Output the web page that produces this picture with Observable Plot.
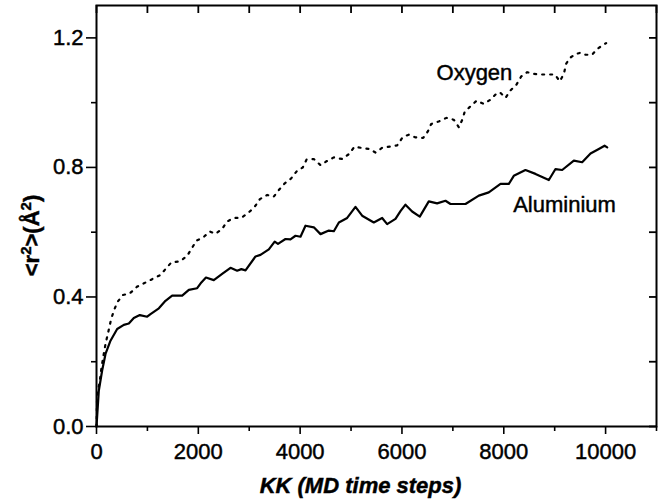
<!DOCTYPE html>
<html>
<head>
<meta charset="utf-8">
<script src="https://cdn.jsdelivr.net/npm/d3@7"></script>
<script src="https://cdn.jsdelivr.net/npm/@observablehq/plot@0.6"></script>
<style>
  html, body { margin: 0; padding: 0; background: white; }
  #chart svg text { stroke: black; stroke-width: 0.45px; paint-order: stroke; }
</style>
</head>
<body>
<div id="chart"></div>
<script>
// Aluminium <r^2> vs time steps (solid)
const alX = [0, 45, 110, 177, 275, 406, 537, 635, 733, 851, 995, 1061, 1225, 1355, 1486, 1683, 1814, 1977, 2060, 2150, 2304, 2468, 2632, 2763, 2845, 2927, 3123, 3221, 3385, 3500, 3565, 3712, 3810, 3909, 4007, 4105, 4269, 4400, 4564, 4662, 4761, 4924, 5087, 5218, 5447, 5611, 5709, 5873, 5971, 6069, 6200, 6350, 6527, 6691, 6855, 6953, 7248, 7510, 7706, 7936, 8099, 8197, 8426, 8623, 8885, 9016, 9147, 9376, 9540, 9704, 9867, 9980, 10032];
const alY = [0, 0.11, 0.172, 0.224, 0.265, 0.301, 0.314, 0.318, 0.335, 0.344, 0.339, 0.347, 0.365, 0.388, 0.404, 0.404, 0.422, 0.427, 0.445, 0.46, 0.452, 0.471, 0.49, 0.481, 0.486, 0.482, 0.525, 0.53, 0.547, 0.571, 0.564, 0.579, 0.578, 0.589, 0.586, 0.62, 0.615, 0.594, 0.605, 0.603, 0.63, 0.644, 0.678, 0.651, 0.63, 0.644, 0.625, 0.641, 0.665, 0.685, 0.664, 0.648, 0.695, 0.689, 0.697, 0.687, 0.687, 0.713, 0.723, 0.749, 0.749, 0.774, 0.792, 0.78, 0.761, 0.795, 0.792, 0.821, 0.816, 0.843, 0.857, 0.867, 0.862];

// Oxygen <r^2> vs time steps (dotted)
const oxX = [0, 13, 65, 98, 131, 177, 222, 288, 340, 406, 517, 654, 799, 943, 1093, 1257, 1355, 1473, 1637, 1781, 1964, 2095, 2226, 2337, 2468, 2566, 2697, 2842, 2992, 3110, 3208, 3353, 3483, 3581, 3699, 3824, 3942, 4052, 4125, 4269, 4400, 4518, 4662, 4826, 4957, 5068, 5218, 5362, 5480, 5624, 5762, 5906, 6016, 6135, 6260, 6417, 6508, 6574, 6724, 6875, 7019, 7118, 7184, 7229, 7314, 7465, 7608, 7726, 7838, 7923, 8035, 8133, 8251, 8343, 8460, 8591, 8722, 8853, 9003, 9101, 9180, 9226, 9297, 9409, 9507, 9606, 9736, 9835, 9933, 10010];
const oxY = [0, 0.095, 0.141, 0.182, 0.213, 0.255, 0.285, 0.332, 0.357, 0.383, 0.406, 0.411, 0.432, 0.443, 0.455, 0.468, 0.486, 0.507, 0.51, 0.527, 0.574, 0.584, 0.602, 0.595, 0.61, 0.633, 0.644, 0.644, 0.661, 0.679, 0.702, 0.715, 0.71, 0.73, 0.751, 0.766, 0.79, 0.8, 0.824, 0.826, 0.807, 0.819, 0.831, 0.826, 0.841, 0.864, 0.86, 0.857, 0.846, 0.862, 0.864, 0.868, 0.894, 0.901, 0.893, 0.891, 0.911, 0.934, 0.942, 0.953, 0.947, 0.924, 0.947, 0.97, 0.984, 1.006, 0.996, 1.008, 1.025, 1.032, 1.015, 1.038, 1.056, 1.081, 1.094, 1.089, 1.087, 1.087, 1.087, 1.066, 1.089, 1.12, 1.138, 1.15, 1.154, 1.148, 1.148, 1.166, 1.176, 1.184];

// In-plot series labels
const labelNames = ["Oxygen", "Aluminium"];
const labelX = [6679, 8185];
const labelY = [1.071, 0.661];

// Ticks
const xMajor = [0, 2000, 4000, 6000, 8000, 10000];
const xMinor = [1000, 3000, 5000, 7000, 9000, 11000];
const yMajor = [0, 0.4, 0.8, 1.2];
const yMinor = [0.2, 0.6, 1.0];

const xLabel = "KK (MD time steps)";
const yLabel = "<r2>(Å2)";

const al = alX.map((x, i) => ({x, y: alY[i]}));
const ox = oxX.map((x, i) => ({x, y: oxY[i]}));

const FONT = "'Liberation Sans', Arial, Helvetica, sans-serif";

const W = 667, H = 501, ML = 96, MR = 11, MT = 5, MB = 75;
const frameW = W - ML - MR, frameH = H - MT - MB;
const inTick = 8;

const chart = Plot.plot({
  width: W,
  height: H,
  marginLeft: ML,
  marginRight: MR,
  marginTop: MT,
  marginBottom: MB,
  style: {fontFamily: FONT, fontSize: "22px", color: "black", background: "white"},
  x: {domain: [0, 11000]},
  y: {domain: [0, 1.3]},
  marks: [
    Plot.frame({stroke: "black", fill: "none", strokeWidth: 2}),
    Plot.axisX({ticks: xMajor, tickSize: 8, tickPadding: 9, tickFormat: d3.format("d"), label: null, strokeWidth: 1.6, fontSize: 22}),
    Plot.axisX({ticks: xMinor, tickSize: 5, text: null, label: null, strokeWidth: 1.6}),
    Plot.axisY({ticks: yMajor, tickSize: 10, tickPadding: 3, tickFormat: d3.format(".1f"), label: null, strokeWidth: 1.6, fontSize: 22}),
    Plot.axisY({ticks: yMinor, tickSize: 5, text: null, label: null, strokeWidth: 1.6}),
    Plot.line(al, {x: "x", y: "y", stroke: "black", strokeWidth: 2.2}),
    Plot.line(ox, {x: "x", y: "y", stroke: "black", strokeWidth: 2.2, strokeDasharray: "2,6"}),
    // inward ticks along the top edge
    Plot.ruleX(xMajor.concat(xMinor), {x: (d) => d, insetBottom: frameH - inTick, stroke: "black", strokeWidth: 1.8}),
    // inward ticks along the right edge
    Plot.axisY({anchor: "right", ticks: yMajor.concat(yMinor), tickSize: inTick, dx: -inTick, text: null, label: null, stroke: "black", strokeWidth: 1.8}),
    Plot.text(labelNames, {x: labelX, y: labelY, text: (d) => d, textAnchor: "start", lineAnchor: "bottom", fontSize: 22, fill: "black"}),
    Plot.text([xLabel], {frameAnchor: "bottom", text: (d) => d, textAnchor: "middle", dx: -16, dy: 66, lineAnchor: "bottom", fontSize: 22, fontWeight: "bold", fontStyle: "italic", fill: "black"}),
    Plot.text([yLabel], {frameAnchor: "left", text: (d) => d, textAnchor: "middle", rotate: -90, dx: -58, dy: 19.5, lineAnchor: "bottom", fontSize: 22, fontWeight: "bold", fill: "black"})
  ]
});

document.getElementById("chart").appendChild(chart);

// Turn the "2"s of the y label into superscripts
d3.select(chart).selectAll("text").filter(function () { return this.textContent === yLabel; }).each(function () {
  const t = d3.select(this);
  t.text(null);
  const parts = [["<r", false], ["2", true], [">(Å", false], ["2", true], [")", false]];
  for (const [s, sup] of parts) {
    const ts = t.append("tspan").text(s);
    if (sup) ts.attr("font-size", 15).attr("baseline-shift", "super");
  }
});
</script>
</body>
</html>
